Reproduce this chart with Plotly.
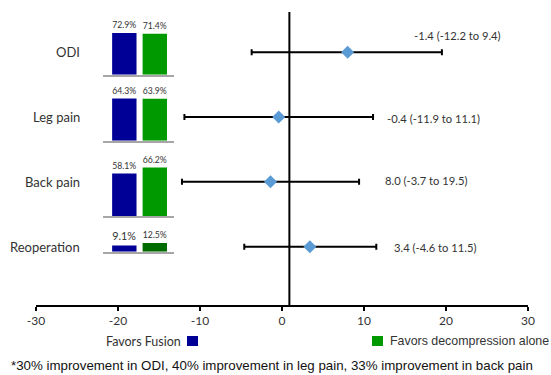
import plotly.graph_objects as go

# ---------------- data ----------------
outcomes = ["ODI", "Leg pain", "Back pain", "Reoperation"]
estimate = [8.0, -0.4, -1.4, 3.4]
ci_low = [-3.7, -11.9, -12.2, -4.6]
ci_high = [19.5, 11.1, 9.4, 11.5]
ci_labels = ["-1.4 (-12.2 to 9.4)", "-0.4 (-11.9 to 11.1)",
             "8.0 (-3.7 to 19.5)", "3.4 (-4.6 to 11.5)"]
fusion_pct = [72.9, 64.3, 58.1, 9.1]
decomp_pct = [71.4, 63.9, 66.2, 12.5]
x_ticks = [-30, -20, -10, 0, 10, 20, 30]
null_line = 0.9
footnote = "*30% improvement in ODI, 40% improvement in leg pain, 33% improvement in back pain"

# ---------------- layout helpers ----------------
W, H = 551, 375
ML, MR, MT, MB = 36, 23, 12, 70
PW, PH = W - ML - MR, H - MT - MB


def px_x(px):
    return (px - ML) / PW


def px_y(py):
    return (H - MB - py) / PH


row_y = [4, 3, 2, 1]
label_pos = [(15.9, 4.26), (12.6, 2.97), (12.3, 2.02), (13.4, 0.98)]
# inset layout: baseline pixel, pixels per percent, inset height in pixels
inset_base = [74.8, 140.7, 216.0, 251.7]
inset_scale = [0.575, 0.655, 0.733, 0.69]
inset_height = [58, 60, 70, 30]
blue = "#000096"
greens = ["#009900", "#009900", "#009900", "#006b00"]
txt = "#333333"
calibri = "Lato, Carlito, Calibri, sans-serif"
arial = "Arial, Liberation Sans, sans-serif"

fig = go.Figure()

err_plus = [h - e for h, e in zip(ci_high, estimate)]
err_minus = [e - l for e, l in zip(estimate, ci_low)]

fig.add_trace(go.Scatter(
    x=estimate, y=row_y, mode="markers",
    marker=dict(symbol="diamond", size=10, color="#5B9BD5"),
    error_x=dict(type="data", symmetric=False, array=err_plus, arrayminus=err_minus,
                 color="black", thickness=2, width=3),
    showlegend=False, hoverinfo="skip",
))

# reference vertical line
fig.add_shape(type="line", xref="x", yref="paper", x0=null_line, x1=null_line,
              y0=0, y1=1, line=dict(color="black", width=2))

annotations = []
for i, name in enumerate(outcomes):
    annotations.append(dict(x=px_x(82), y=row_y[i], xref="paper", yref="y",
                            text=name, showarrow=False, xanchor="right",
                            yanchor="middle", font=dict(family=calibri, size=13, color=txt)))
    lx, ly = label_pos[i]
    annotations.append(dict(x=lx, y=ly, xref="x", yref="y", text=ci_labels[i],
                            showarrow=False, xanchor="left", yanchor="middle",
                            font=dict(family=calibri, size=11.2, color=txt)))

# inset bar charts
for i in range(4):
    k = i + 2
    base = inset_base[i]
    top = base - inset_height[i]
    xa, ya = f"x{k}", f"y{k}"
    fig.add_trace(go.Bar(
        x=[0, 1], y=[fusion_pct[i], decomp_pct[i]],
        marker=dict(color=[blue, greens[i]], line=dict(width=0)),
        width=0.8, text=[f"{fusion_pct[i]}%", f"{decomp_pct[i]}%"],
        textposition="outside", cliponaxis=False,
        textfont=dict(family=calibri, size=10.8, color=txt),
        xaxis=xa, yaxis=ya, showlegend=False, hoverinfo="skip",
    ))
    fig.layout[f"xaxis{k}"] = dict(domain=[px_x(103), px_x(174)], range=[-0.7, 1.63],
                                   anchor=ya, showline=True, linecolor="#a6a6a6",
                                   linewidth=1.5, showticklabels=False, ticks="",
                                   showgrid=False, zeroline=False, fixedrange=True)
    fig.layout[f"yaxis{k}"] = dict(domain=[px_y(base), px_y(top)],
                                   range=[0, inset_height[i] / inset_scale[i]],
                                   anchor=xa, visible=False, fixedrange=True)

# legend
annotations.append(dict(x=px_x(183), y=px_y(341), xref="paper", yref="paper",
                        text="Favors Fusion", showarrow=False, xanchor="right",
                        yanchor="middle", font=dict(family=calibri, size=12.5, color=txt)))
annotations.append(dict(x=px_x(388), y=px_y(341), xref="paper", yref="paper",
                        text="Favors decompression alone", showarrow=False, xanchor="left",
                        yanchor="middle", font=dict(family=arial, size=12.4, color=txt)))
annotations.append(dict(x=px_x(9), y=px_y(365), xref="paper", yref="paper",
                        text=footnote, showarrow=False, xanchor="left",
                        yanchor="middle", font=dict(family=arial, size=13.3, color="#111111")))

fig.add_shape(type="rect", xref="paper", yref="paper",
              x0=px_x(187), x1=px_x(198), y0=px_y(346), y1=px_y(336),
              fillcolor=blue, line=dict(width=0))
fig.add_shape(type="rect", xref="paper", yref="paper",
              x0=px_x(372), x1=px_x(383), y0=px_y(346), y1=px_y(336),
              fillcolor="#009900", line=dict(width=0))

fig.update_layout(
    width=W, height=H,
    margin=dict(l=ML, r=MR, t=MT, b=MB, autoexpand=False),
    paper_bgcolor="white", plot_bgcolor="white",
    annotations=annotations,
    xaxis=dict(range=[-30, 30], tickvals=x_ticks, ticktext=[str(t) for t in x_ticks],
               showline=True, linecolor="black", linewidth=2, ticks="outside",
               ticklen=4, tickwidth=2, tickcolor="black", showgrid=False, zeroline=False,
               tickfont=dict(family=calibri, size=12, color=txt), fixedrange=True),
    yaxis=dict(range=[0.1, 4.62], visible=False, fixedrange=True),
    showlegend=False,
)

fig.write_html("out.html", config={"displayModeBar": False},
               post_script="document.body.style.margin='0px';")
